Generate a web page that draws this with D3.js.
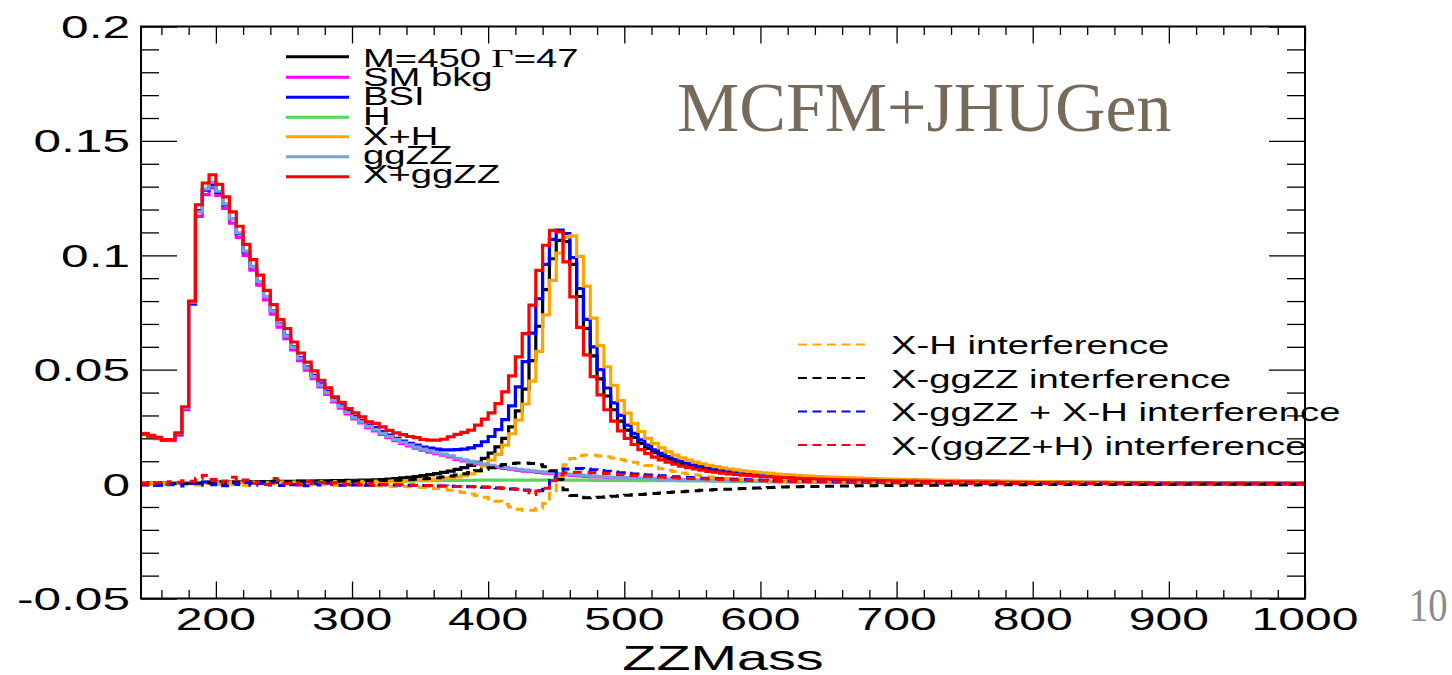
<!DOCTYPE html>
<html><head><meta charset="utf-8">
<script src="https://cdn.jsdelivr.net/npm/d3@7"></script>
<style>body{margin:0;background:#fff;} svg{display:block;}</style>
</head><body>
<svg id="c" width="1452" height="675"></svg>
<script>
// ---------------- data ----------------
const binStart = 145, binWidth = 5, xMin = 145, xMax = 1000;
const yMin = -0.05, yMax = 0.2;
const xTickValues = [200, 300, 400, 500, 600, 700, 800, 900, 1000];
const xTickLabels = ["200", "300", "400", "500", "600", "700", "800", "900", "1000"];
const yTickValues = [-0.05, 0, 0.05, 0.1, 0.15, 0.2];
const yTickLabels = ["-0.05", "0", "0.05", "0.1", "0.15", "0.2"];
const solidNames = ["M=450 \u0393=47", "SM bkg", "BSI", "H", "X+H", "ggZZ", "X+ggZZ"];
const dashedNames = ["X-H interference", "X-ggZZ interference", "X-ggZZ + X-H interference", "X-(ggZZ+H) interference"];

// bins of 5 GeV, first bin starts at 145; each row = 10 bins (145-190, 195-240, ...)
const signalX = [
.0004,.0004,.0005,.0005,.0005,.0006,.0006,.0007,.0007,.0008,
.0008,.0009,.0009,.0009,.0010,.0010,.0010,.0011,.0011,.0011,
.0012,.0012,.0012,.0013,.0013,.0013,.0014,.0014,.0015,.0015,
.0016,.0016,.0017,.0018,.0019,.0020,.0022,.0024,.0027,.0030,
.0033,.0037,.0041,.0046,.0051,.0057,.0064,.0072,.0082,.0095,
.0112,.0135,.0163,.0200,.0250,.0320,.0415,.0540,.0690,.0850,
.0985,.1065,.1060,.0960,.0820,.0680,.0560,.0460,.0385,.0325,
.0275,.0236,.0204,.0178,.0156,.0138,.0123,.0110,.0099,.0090,
.0082,.0075,.0069,.0064,.0059,.0055,.0051,.0048,.0045,.0042,
.0040,.0037,.0035,.0033,.0032,.0030,.0029,.0027,.0026,.0025,
.0024,.0023,.0022,.0021,.0020,.0020,.0019,.0018,.0018,.0017,
.0016,.0016,.0015,.0015,.0014,.0014,.0013,.0013,.0013,.0012,
.0012,.0012,.0011,.0011,.0011,.0010,.0010,.0010,.0009,.0009,
.0009,.0009,.0008,.0008,.0008,.0008,.0008,.0007,.0007,.0007,
.0007,.0007,.0006,.0006,.0006,.0006,.0006,.0006,.0005,.0005,
.0005,.0005,.0005,.0005,.0005,.0005,.0004,.0004,.0004,.0004,
.0004,.0004,.0004,.0004,.0004,.0003,.0003,.0003,.0003,.0003,
.0003];
const smBkg = [
.0218,.0208,.0199,.0191,.0190,.0214,.0325,.0785,.1170,.1265,
.1295,.1262,.1205,.1140,.1078,.1000,.0935,.0870,.0805,.0743,
.0686,.0636,.0586,.0540,.0498,.0461,.0425,.0392,.0359,.0332,
.0307,.0285,.0267,.0247,.0233,.0217,.0203,.0190,.0178,.0167,
.0157,.0148,.0140,.0133,.0126,.0119,.0108,.0101,.0094,.0088,
.0083,.0078,.0073,.0069,.0065,.0061,.0057,.0054,.0051,.0048,
.0046,.0043,.0041,.0038,.0036,.0034,.0032,.0031,.0029,.0028,
.0026,.0025,.0024,.0023,.0022,.0021,.0020,.0019,.0018,.0018,
.0017,.0016,.0016,.0015,.0015,.0014,.0014,.0013,.0013,.0012,
.0012,.0012,.0011,.0011,.0011,.0010,.0010,.0010,.0009,.0009,
.0009,.0009,.0008,.0008,.0008,.0008,.0007,.0007,.0007,.0007,
.0007,.0006,.0006,.0006,.0006,.0006,.0006,.0005,.0005,.0005,
.0005,.0005,.0005,.0004,.0004,.0004,.0004,.0004,.0004,.0004,
.0004,.0003,.0003,.0003,.0003,.0003,.0003,.0003,.0003,.0003,
.0003,.0002,.0002,.0002,.0002,.0002,.0002,.0002,.0002,.0002,
.0002,.0002,.0002,.0002,.0002,.0002,.0002,.0001,.0001,.0001,
.0001,.0001,.0001,.0001,.0001,.0001,.0001,.0001,.0001,.0001,
.0001];
const bsi = [
.0219,.0210,.0201,.0193,.0193,.0218,.0330,.0790,.1195,.1285,
.1310,.1275,.1220,.1160,.1095,.1015,.0950,.0885,.0820,.0758,
.0700,.0650,.0600,.0553,.0512,.0475,.0438,.0405,.0370,.0342,
.0318,.0296,.0277,.0258,.0247,.0230,.0214,.0200,.0188,.0178,
.0170,.0162,.0157,.0153,.0150,.0150,.0151,.0153,.0158,.0168,
.0185,.0208,.0238,.0282,.0342,.0425,.0535,.0660,.0810,.0960,
.1070,.1110,.1095,.0990,.0855,.0720,.0600,.0500,.0420,.0355,
.0300,.0258,.0222,.0193,.0170,.0150,.0134,.0120,.0108,.0098,
.0090,.0083,.0077,.0071,.0066,.0061,.0057,.0054,.0050,.0047,
.0045,.0042,.0040,.0038,.0036,.0034,.0033,.0031,.0030,.0029,
.0027,.0026,.0025,.0024,.0023,.0022,.0021,.0021,.0020,.0019,
.0019,.0018,.0017,.0017,.0016,.0016,.0015,.0015,.0014,.0014,
.0013,.0013,.0013,.0012,.0012,.0012,.0011,.0011,.0011,.0010,
.0010,.0010,.0010,.0009,.0009,.0009,.0009,.0008,.0008,.0008,
.0008,.0008,.0007,.0007,.0007,.0007,.0007,.0006,.0006,.0006,
.0006,.0006,.0006,.0006,.0005,.0005,.0005,.0005,.0005,.0005,
.0005,.0005,.0004,.0004,.0004,.0004,.0004,.0004,.0004,.0004,
.0004];
const higgs = [
.0003,.0003,.0004,.0004,.0004,.0005,.0005,.0005,.0006,.0006,
.0006,.0006,.0007,.0007,.0007,.0007,.0008,.0008,.0008,.0008,
.0009,.0009,.0009,.0009,.0010,.0010,.0010,.0010,.0011,.0011,
.0011,.0012,.0012,.0012,.0013,.0013,.0013,.0014,.0014,.0014,
.0015,.0015,.0015,.0015,.0016,.0016,.0016,.0016,.0016,.0017,
.0017,.0017,.0017,.0017,.0017,.0017,.0017,.0017,.0017,.0017,
.0017,.0017,.0017,.0017,.0017,.0017,.0016,.0016,.0016,.0016,
.0016,.0016,.0016,.0015,.0015,.0015,.0015,.0015,.0015,.0014,
.0014,.0014,.0014,.0014,.0013,.0013,.0013,.0013,.0012,.0012,
.0012,.0012,.0011,.0011,.0011,.0011,.0010,.0010,.0010,.0010,
.0010,.0009,.0009,.0009,.0009,.0008,.0008,.0008,.0008,.0008,
.0007,.0007,.0007,.0007,.0007,.0006,.0006,.0006,.0006,.0006,
.0006,.0005,.0005,.0005,.0005,.0005,.0005,.0005,.0004,.0004,
.0004,.0004,.0004,.0004,.0004,.0004,.0003,.0003,.0003,.0003,
.0003,.0003,.0003,.0003,.0003,.0003,.0003,.0002,.0002,.0002,
.0002,.0002,.0002,.0002,.0002,.0002,.0002,.0002,.0002,.0002,
.0002,.0002,.0002,.0002,.0002,.0002,.0002,.0002,.0001,.0001,
.0001];
const xPlusH = [
.0002,.0002,.0003,.0003,.0003,.0004,.0004,.0004,.0005,.0005,
.0005,.0005,.0006,.0006,.0006,.0006,.0007,.0007,.0007,.0007,
.0008,.0008,.0008,.0008,.0009,.0009,.0009,.0009,.0010,.0010,
.0010,.0010,.0011,.0011,.0011,.0011,.0011,.0012,.0013,.0015,
.0016,.0018,.0020,.0022,.0025,.0028,.0032,.0037,.0045,.0058,
.0080,.0105,.0130,.0170,.0220,.0280,.0350,.0450,.0580,.0740,
.0890,.1010,.1080,.1085,.0995,.0865,.0725,.0605,.0512,.0432,
.0365,.0310,.0265,.0230,.0200,.0178,.0158,.0141,.0127,.0115,
.0105,.0096,.0089,.0082,.0076,.0071,.0066,.0062,.0058,.0055,
.0052,.0049,.0047,.0044,.0042,.0040,.0038,.0036,.0035,.0033,
.0032,.0031,.0029,.0028,.0027,.0026,.0025,.0024,.0023,.0022,
.0022,.0021,.0020,.0019,.0019,.0018,.0017,.0017,.0016,.0016,
.0015,.0015,.0014,.0014,.0014,.0013,.0013,.0013,.0012,.0012,
.0012,.0011,.0011,.0011,.0010,.0010,.0010,.0010,.0009,.0009,
.0009,.0009,.0009,.0008,.0008,.0008,.0008,.0008,.0007,.0007,
.0007,.0007,.0007,.0007,.0006,.0006,.0006,.0006,.0006,.0006,
.0006,.0005,.0005,.0005,.0005,.0005,.0005,.0005,.0005,.0005,
.0004];
const ggZZ = [
.0222,.0211,.0202,.0194,.0193,.0220,.0332,.0795,.1190,.1290,
.1320,.1280,.1225,.1160,.1098,.1018,.0952,.0886,.0820,.0757,
.0698,.0648,.0597,.0550,.0508,.0470,.0433,.0400,.0366,.0338,
.0313,.0290,.0272,.0252,.0238,.0222,.0208,.0195,.0183,.0172,
.0162,.0153,.0145,.0138,.0131,.0124,.0113,.0106,.0099,.0093,
.0087,.0082,.0077,.0073,.0069,.0065,.0061,.0058,.0055,.0052,
.0049,.0046,.0044,.0041,.0039,.0037,.0035,.0033,.0031,.0030,
.0028,.0027,.0026,.0025,.0024,.0023,.0022,.0021,.0020,.0019,
.0018,.0018,.0017,.0016,.0016,.0015,.0015,.0014,.0014,.0013,
.0013,.0012,.0012,.0012,.0011,.0011,.0011,.0010,.0010,.0010,
.0009,.0009,.0009,.0009,.0008,.0008,.0008,.0008,.0007,.0007,
.0007,.0007,.0007,.0006,.0006,.0006,.0006,.0006,.0006,.0005,
.0005,.0005,.0005,.0005,.0005,.0005,.0004,.0004,.0004,.0004,
.0004,.0004,.0004,.0004,.0004,.0003,.0003,.0003,.0003,.0003,
.0003,.0003,.0003,.0003,.0003,.0003,.0003,.0002,.0002,.0002,
.0002,.0002,.0002,.0002,.0002,.0002,.0002,.0002,.0002,.0002,
.0002,.0002,.0002,.0002,.0002,.0001,.0001,.0001,.0001,.0001,
.0001];
const xPlusGgZZ = [
.0221,.0213,.0204,.0195,.0195,.0224,.0338,.0800,.1221,.1316,
.1352,.1310,.1255,.1190,.1127,.1048,.0981,.0913,.0847,.0784,
.0719,.0680,.0621,.0573,.0533,.0495,.0454,.0421,.0381,.0357,
.0330,.0311,.0294,.0272,.0265,.0250,.0235,.0224,.0216,.0208,
.0203,.0195,.0192,.0192,.0196,.0207,.0217,.0226,.0236,.0258,
.0284,.0311,.0352,.0403,.0473,.0556,.0658,.0782,.0934,.1044,
.1109,.1102,.0971,.0818,.0685,.0565,.0470,.0390,.0325,.0275,
.0233,.0200,.0173,.0151,.0133,.0118,.0106,.0096,.0087,.0079,
.0072,.0066,.0061,.0056,.0052,.0048,.0045,.0042,.0039,.0037,
.0035,.0033,.0031,.0029,.0028,.0027,.0025,.0024,.0023,.0022,
.0021,.0020,.0019,.0019,.0018,.0017,.0017,.0016,.0015,.0015,
.0014,.0014,.0013,.0013,.0012,.0012,.0011,.0011,.0011,.0010,
.0010,.0010,.0009,.0009,.0009,.0009,.0008,.0008,.0008,.0008,
.0007,.0007,.0007,.0007,.0007,.0006,.0006,.0006,.0006,.0006,
.0006,.0005,.0005,.0005,.0005,.0005,.0005,.0005,.0004,.0004,
.0004,.0004,.0004,.0004,.0004,.0004,.0004,.0003,.0003,.0003,
.0003,.0003,.0003,.0003,.0003,.0003,.0003,.0003,.0003,.0002,
.0002];
const intXH = [
.0000,.0003,-.0002,.0001,.0004,-.0003,.0002,.0005,-.0004,.0003,
.0006,-.0002,.0004,-.0003,.0002,-.0005,.0001,.0003,-.0004,.0002,
-.0003,.0001,-.0002,.0003,-.0004,.0000,-.0003,.0002,-.0005,-.0001,
-.0004,-.0003,-.0006,-.0004,-.0007,-.0008,-.0009,-.0010,-.0011,-.0012,
-.0013,-.0015,-.0017,-.0020,-.0023,-.0027,-.0032,-.0037,-.0043,-.0050,
-.0057,-.0065,-.0075,-.0088,-.0100,-.0110,-.0115,-.0114,-.0106,-.0085,
-.0040,.0030,.0085,.0112,.0124,.0127,.0126,.0123,.0119,.0114,
.0108,.0102,.0095,.0088,.0081,.0074,.0067,.0061,.0055,.0049,
.0044,.0040,.0036,.0032,.0029,.0026,.0024,.0022,.0020,.0018,
.0017,.0015,.0014,.0013,.0012,.0011,.0010,.0010,.0009,.0008,
.0008,.0007,.0007,.0006,.0006,.0006,.0005,.0005,.0005,.0004,
.0004,.0004,.0004,.0003,.0003,.0003,.0003,.0003,.0003,.0002,
.0002,.0002,.0002,.0002,.0002,.0002,.0002,.0002,.0001,.0001,
.0001,.0001,.0001,.0001,.0001,.0001,.0001,.0001,.0001,.0001,
.0001,.0001,.0001,.0001,.0001,.0000,.0000,.0000,.0000,.0000,
.0000,.0000,.0000,.0000,.0000,.0000,.0000,.0000,.0000,.0000,
.0000,.0000,.0000,.0000,.0000,.0000,.0000,.0000,.0000,.0000,
.0000];
const intXggZZ = [
.0002,.0005,.0000,.0006,.0003,.0008,.0002,.0007,.0004,.0009,
.0005,.0010,.0004,.0009,.0006,.0011,.0005,.0010,.0007,.0012,
.0008,.0011,.0006,.0012,.0009,.0013,.0008,.0012,.0010,.0014,
.0011,.0013,.0012,.0015,.0014,.0016,.0017,.0017,.0018,.0019,
.0021,.0023,.0025,.0028,.0031,.0035,.0040,.0045,.0051,.0058,
.0065,.0072,.0080,.0086,.0090,.0092,.0092,.0090,.0085,.0076,
.0058,.0020,-.0025,-.0050,-.0058,-.0060,-.0059,-.0057,-.0055,-.0053,
-.0051,-.0049,-.0047,-.0045,-.0043,-.0041,-.0039,-.0037,-.0035,-.0033,
-.0031,-.0029,-.0027,-.0026,-.0024,-.0023,-.0022,-.0020,-.0019,-.0018,
-.0017,-.0016,-.0015,-.0014,-.0013,-.0012,-.0012,-.0011,-.0010,-.0010,
-.0009,-.0009,-.0008,-.0008,-.0008,-.0007,-.0007,-.0007,-.0006,-.0006,
-.0006,-.0006,-.0005,-.0005,-.0005,-.0005,-.0005,-.0004,-.0004,-.0004,
-.0004,-.0004,-.0004,-.0003,-.0003,-.0003,-.0003,-.0003,-.0003,-.0003,
-.0003,-.0002,-.0002,-.0002,-.0002,-.0002,-.0002,-.0002,-.0002,-.0002,
-.0002,-.0002,-.0002,-.0002,-.0002,-.0002,-.0002,-.0002,-.0002,-.0002,
-.0002,-.0002,-.0001,-.0001,-.0001,-.0001,-.0001,-.0001,-.0001,-.0001,
-.0001,-.0001,-.0001,-.0001,-.0001,-.0001,-.0001,-.0001,-.0001,-.0001,
-.0001];
const intSum = [
-.0004,.0002,-.0006,.0001,-.0003,.0005,-.0008,.0003,-.0005,.0009,
-.0003,.0006,-.0007,.0004,-.0002,.0007,-.0005,.0003,-.0004,.0006,
-.0006,.0002,-.0003,.0005,-.0007,.0001,-.0004,.0004,-.0002,-.0005,
.0002,-.0004,-.0001,-.0005,-.0002,-.0003,-.0004,-.0004,-.0005,-.0005,
-.0006,-.0006,-.0007,-.0008,-.0008,-.0009,-.0010,-.0011,-.0012,-.0013,
-.0014,-.0015,-.0017,-.0019,-.0021,-.0024,-.0026,-.0028,-.0029,-.0022,
.0030,.0058,.0066,.0068,.0068,.0066,.0063,.0059,.0056,.0053,
.0050,.0047,.0044,.0042,.0040,.0038,.0036,.0034,.0032,.0031,
.0029,.0028,.0026,.0025,.0024,.0023,.0022,.0021,.0020,.0019,
.0018,.0017,.0016,.0015,.0014,.0014,.0013,.0012,.0012,.0011,
.0011,.0010,.0010,.0009,.0009,.0009,.0008,.0008,.0008,.0007,
.0007,.0007,.0007,.0006,.0006,.0006,.0006,.0006,.0005,.0005,
.0005,.0005,.0005,.0005,.0004,.0004,.0004,.0004,.0004,.0004,
.0004,.0003,.0003,.0003,.0003,.0003,.0003,.0003,.0003,.0003,
.0003,.0003,.0003,.0003,.0003,.0002,.0002,.0002,.0002,.0002,
.0002,.0002,.0002,.0002,.0002,.0002,.0002,.0002,.0002,.0002,
.0002,.0002,.0002,.0002,.0002,.0001,.0001,.0001,.0001,.0001,
.0001];
const intXggZZH = [
.0003,-.0004,.0006,-.0002,.0010,.0008,.0015,.0012,.0026,.0038,
.0020,.0006,.0014,.0030,.0012,.0018,.0004,.0009,-.0002,.0024,
.0016,.0003,.0008,-.0004,.0010,.0002,.0007,-.0003,.0006,.0001,
-.0002,.0004,-.0003,.0002,-.0005,-.0001,-.0003,-.0003,-.0003,-.0004,
-.0005,-.0006,-.0006,-.0007,-.0008,-.0009,-.0010,-.0011,-.0011,-.0012,
-.0013,-.0014,-.0016,-.0018,-.0020,-.0022,-.0028,-.0045,-.0030,-.0018,
.0015,.0040,.0050,.0052,.0052,.0051,.0050,.0048,.0046,.0044,
.0042,.0040,.0038,.0036,.0034,.0032,.0031,.0029,.0028,.0026,
.0025,.0024,.0023,.0022,.0021,.0020,.0019,.0018,.0017,.0016,
.0016,.0015,.0014,.0013,.0013,.0012,.0011,.0011,.0010,.0010,
.0009,.0009,.0009,.0008,.0008,.0008,.0007,.0007,.0007,.0006,
.0006,.0006,.0006,.0005,.0005,.0005,.0005,.0005,.0005,.0004,
.0004,.0004,.0004,.0004,.0004,.0004,.0003,.0003,.0003,.0003,
.0003,.0003,.0003,.0003,.0003,.0003,.0003,.0003,.0003,.0003,
.0003,.0003,.0002,.0002,.0002,.0002,.0002,.0002,.0002,.0002,
.0002,.0002,.0002,.0002,.0002,.0002,.0002,.0002,.0002,.0002,
.0002,.0002,.0002,.0001,.0001,.0001,.0001,.0001,.0001,.0001,
.0001];

// ---------------- drawing ----------------
const W = 1452, H = 675;
const L = 141, R = 1305, T = 26.5, B = 598.5;
const SX = 1.55;
const sans = "'Liberation Sans', Arial, Helvetica, sans-serif";
const serif = "'Liberation Serif', 'Times New Roman', serif";
const svg = d3.select("#c");

const x = d3.scaleLinear().domain([xMin, xMax]).range([L, R]);
const y = d3.scaleLinear().domain([yMin, yMax]).range([B, T]);

const nBins = Math.round((xMax - binStart) / binWidth);
const edges = d3.range(nBins).map(i => binStart + i * binWidth);
[signalX, smBkg, bsi, higgs, xPlusH, ggZZ, xPlusGgZZ, intXH, intXggZZ, intSum, intXggZZH]
  .forEach((a, k) => { if (a.length !== nBins) console.error("series " + k + " has " + a.length + " bins"); });

function pts(vals) {
  const p = vals.map((v, i) => [edges[i], v]);
  p.push([xMax, vals[vals.length - 1]]);
  return p;
}
const line = d3.line().x(d => x(d[0])).y(d => y(d[1])).curve(d3.curveStepAfter);

svg.append("rect").attr("width", W).attr("height", H).attr("fill", "#fff");
svg.append("defs").append("clipPath").attr("id", "clip")
  .append("rect").attr("x", L).attr("y", T).attr("width", R - L).attr("height", B - T);

// ticks (inward, on all four sides)
const yMajor = yTickValues;
const yMinor = d3.range(-5, 21).map(k => k / 100).filter(v => !yMajor.some(m => Math.abs(m - v) < 1e-9));
const xMinor = d3.range(160, 1000, 20).filter(v => v % 100 !== 0);
const axG = svg.append("g").attr("class", "axes");
function tickAxis(axisFn, scale, values, size, tx, ty) {
  const g = axG.append("g").attr("transform", `translate(${tx},${ty})`)
    .call(axisFn(scale).tickValues(values).tickSize(size).tickFormat(""));
  g.select(".domain").remove();
  g.selectAll("line").attr("stroke", "#000").attr("stroke-width", 1.3);
}
tickAxis(d3.axisRight, y, yMajor, 36, L, 0);
tickAxis(d3.axisRight, y, yMinor, 18, L, 0);
tickAxis(d3.axisLeft, y, yMajor, 36, R, 0);
tickAxis(d3.axisLeft, y, yMinor, 18, R, 0);
tickAxis(d3.axisTop, x, xTickValues, 17, 0, B);
tickAxis(d3.axisTop, x, xMinor, 8.5, 0, B);
tickAxis(d3.axisBottom, x, xTickValues, 17, 0, T);
tickAxis(d3.axisBottom, x, xMinor, 8.5, 0, T);

// histograms
const solidSeries = [
  {vals: signalX, color: "#000000"},
  {vals: smBkg, color: "#ff00ff"},
  {vals: bsi, color: "#0000ff"},
  {vals: higgs, color: "#57d657"},
  {vals: xPlusH, color: "#ffa500"},
  {vals: ggZZ, color: "#7a9ce0"},
  {vals: xPlusGgZZ, color: "#ff0000"}
];
const dashedSeries = [
  {vals: intXH, color: "#ffa500"},
  {vals: intXggZZ, color: "#000000"},
  {vals: intSum, color: "#0000ff"},
  {vals: intXggZZH, color: "#ff0000"}
];
const plotG = svg.append("g").attr("clip-path", "url(#clip)");
solidSeries.forEach(s => {
  plotG.append("path").attr("d", line(pts(s.vals))).attr("fill", "none")
    .attr("stroke", s.color).attr("stroke-width", 3.2).attr("stroke-linejoin", "miter");
});
dashedSeries.forEach(s => {
  plotG.append("path").attr("d", line(pts(s.vals))).attr("fill", "none")
    .attr("stroke", s.color).attr("stroke-width", 3).attr("stroke-dasharray", "9,6");
});

// frame
svg.append("rect").attr("x", L).attr("y", T).attr("width", R - L).attr("height", B - T)
  .attr("fill", "none").attr("stroke", "#000").attr("stroke-width", 2);

// stretched text helper
function stext(px, py, str, size, anchor, sx, family, color) {
  const g = svg.append("g").attr("transform", `translate(${px},${py}) scale(${sx},1)`);
  return g.append("text").attr("x", 0).attr("y", 0).attr("text-anchor", anchor)
    .attr("font-family", family || sans).attr("font-size", size).attr("fill", color || "#000").text(str);
}

// axis labels
yTickValues.forEach((v, i) => stext(130, y(v) + 11.5, yTickLabels[i], 32, "end", SX));
xTickValues.forEach((v, i) => stext(x(v), 630, xTickLabels[i], 31, "middle", SX));
stext((L + R) / 2, 670, "ZZMass", 36, "middle", SX);

// legend 1 (solid)
const leg1LineY = [56.7, 77.3, 97.3, 117.3, 136.7, 156.7, 176.7];
const leg1TextY = [66.5, 85.5, 105, 125, 145, 163.5, 183];
solidSeries.forEach((s, i) => {
  svg.append("line").attr("x1", 286).attr("x2", 349).attr("y1", leg1LineY[i]).attr("y2", leg1LineY[i])
    .attr("stroke", s.color).attr("stroke-width", 3);
  if (i === 0) {
    const t = stext(363, leg1TextY[i], "", 25, "start", 1.53);
    t.append("tspan").text("M=450 ");
    t.append("tspan").attr("font-family", serif).text("\u0393");
    t.append("tspan").text("=47");
  } else {
    stext(363, leg1TextY[i], solidNames[i], 25, "start", 1.53);
  }
});

// legend 2 (dashed)
const leg2LineY = [344.5, 378, 411.5, 445];
dashedSeries.forEach((s, i) => {
  svg.append("line").attr("x1", 798).attr("x2", 867).attr("y1", leg2LineY[i]).attr("y2", leg2LineY[i])
    .attr("stroke", s.color).attr("stroke-width", 2.2).attr("stroke-dasharray", "9,5.5");
  stext(891, leg2LineY[i] + 9.5, dashedNames[i], 25, "start", 1.53);
});

// overlay texts
svg.append("text").attr("x", 677).attr("y", 131).attr("font-family", serif).attr("font-size", 70)
  .attr("fill", "#776a5a").text("MCFM+JHUGen");
stext(1409, 621, "10", 46, "start", 0.84, serif, "#8a8a8a");
</script>
</body></html>
